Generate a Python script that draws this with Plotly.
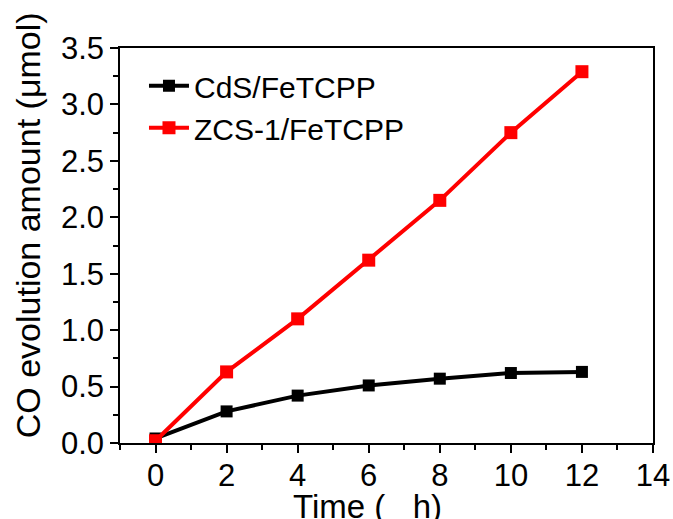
import plotly.graph_objects as go

time_h = [0, 2, 4, 6, 8, 10, 12]
cds_fetcpp = [0.04, 0.28, 0.42, 0.51, 0.57, 0.62, 0.63]
zcs1_fetcpp = [0.02, 0.63, 1.10, 1.62, 2.15, 2.75, 3.29]
x_ticks = [0, 2, 4, 6, 8, 10, 12, 14]
y_ticks = [0.0, 0.5, 1.0, 1.5, 2.0, 2.5, 3.0, 3.5]

FONT = "Liberation Sans, Arial, sans-serif"

fig = go.Figure()
fig.add_trace(go.Scatter(
    x=time_h, y=cds_fetcpp, name="CdS/FeTCPP", mode="lines+markers",
    line=dict(color="black", width=4),
    marker=dict(symbol="square", size=12, color="black"),
))
fig.add_trace(go.Scatter(
    x=time_h, y=zcs1_fetcpp, name="ZCS-1/FeTCPP", mode="lines+markers",
    line=dict(color="#ff0000", width=4),
    marker=dict(symbol="square", size=13, color="#ff0000"),
))

axis_common = dict(
    showline=True, linecolor="black", linewidth=1.5, mirror=True,
    showgrid=False, zeroline=False, ticks="outside", ticklen=8,
    tickwidth=1.5, tickcolor="black", automargin=False,
    tickfont=dict(family=FONT, size=31, color="black"),
)
fig.update_xaxes(
    range=[-1, 14], tickvals=x_ticks, ticktext=[str(v) for v in x_ticks],
    ticklabelstandoff=-4,
    minor=dict(dtick=1, ticks="outside", ticklen=5, tickwidth=1.5, tickcolor="black"),
    **axis_common,
)
fig.update_yaxes(
    range=[0, 3.5], tickvals=y_ticks, ticktext=[f"{v:.1f}" for v in y_ticks],
    minor=dict(dtick=0.25, ticks="outside", ticklen=5, tickwidth=1.5, tickcolor="black"),
    **axis_common,
)

fig.add_annotation(
    text="Time (   h)", xref="paper", yref="paper", x=0.465, y=-0.108,
    xanchor="center", yanchor="top", showarrow=False,
    font=dict(family=FONT, size=33, color="black"),
)
fig.add_annotation(
    text="CO evolution amount (μmol)", xref="paper", yref="paper", x=-0.172, y=0.552,
    xanchor="center", yanchor="middle", textangle=-90, showarrow=False,
    font=dict(family=FONT, size=34, color="black"),
)

fig.update_layout(
    width=673, height=519,
    margin=dict(l=120, r=20, t=48, b=76),
    plot_bgcolor="white", paper_bgcolor="white",
    showlegend=True,
    legend=dict(
        x=0.045, y=0.97, xanchor="left", yanchor="top",
        font=dict(family=FONT, size=30, color="black"),
        bgcolor="rgba(0,0,0,0)", tracegroupgap=0, itemwidth=40,
    ),
)

fig.write_html(
    "out.html",
    config={"displayModeBar": False},
    post_script="document.body.style.margin='0';document.body.style.overflow='hidden';",
)
